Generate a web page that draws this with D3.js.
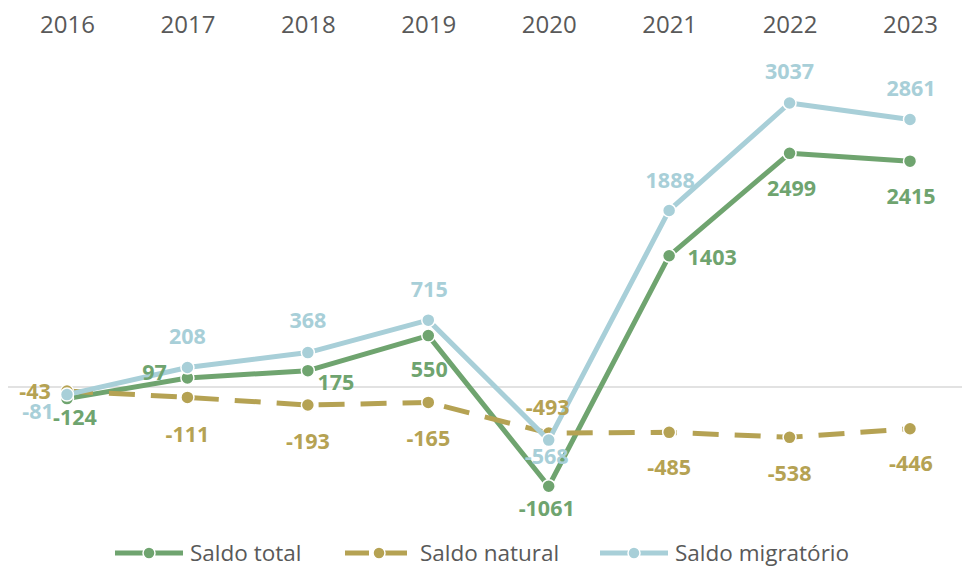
<!DOCTYPE html>
<html><head><meta charset="utf-8">
<script src="https://cdn.jsdelivr.net/npm/d3@7"></script>
<style>body{margin:0;background:#fff;}svg{display:block;}</style>
</head><body>
<script>
const years = ["2016","2017","2018","2019","2020","2021","2022","2023"];
const saldoTotal = [-124, 97, 175, 550, -1061, 1403, 2499, 2415];
const saldoNatural = [-43, -111, -193, -165, -493, -485, -538, -446];
const saldoMigratorio = [-81, 208, 368, 715, -568, 1888, 3037, 2861];
const seriesNames = ["Saldo total", "Saldo natural", "Saldo migratório"];

// label placement offsets (dx, dy) relative to each point
const offTotal = [[8,19],[-33,-6],[28,12],[1,34],[-2,22],[43,1],[2,35],[1,35]];
const offNatural = [[-32,0],[0,37],[0,36],[0,36],[-1,-26],[0,35],[0,36],[1,35]];
const offMigr = [[-29,17],[0,-31],[0,-32],[1,-31],[-2,16],[1,-30],[0,-32],[1,-31]];

const W = 963, H = 567;
const svg = d3.select("body").append("svg").attr("width", W).attr("height", H);
const x = d3.scalePoint().domain(years).range([67, 910]);
const y = d3.scaleLinear().domain([0, 3037]).range([387, 103]);

// zero line
svg.append("line").attr("x1", 8).attr("x2", 962).attr("y1", y(0)).attr("y2", y(0))
  .attr("stroke", "#d9d9d9").attr("stroke-width", 1.5);

// top axis
const axis = d3.axisTop(x).tickSize(0).tickPadding(0);
const ag = svg.append("g").attr("transform", "translate(0,33)").call(axis);
ag.select(".domain").remove();
ag.selectAll("text").attr("font-family", "Open Sans, sans-serif").attr("font-size", 24)
  .attr("fill", "#595959").attr("dy", 0);

const series = [
  {name: seriesNames[0], vals: saldoTotal, color: "#6fa46f", dash: null, off: offTotal},
  {name: seriesNames[1], vals: saldoNatural, color: "#b5a253", dash: "26,16", off: offNatural},
  {name: seriesNames[2], vals: saldoMigratorio, color: "#a8cfd8", dash: null, off: offMigr}
];

const line = d3.line().x((d, i) => x(years[i])).y(d => y(d));

series.forEach(s => {
  svg.append("path").datum(s.vals).attr("d", line).attr("fill", "none")
    .attr("stroke", s.color).attr("stroke-width", 5).attr("stroke-linejoin", "round")
    .attr("stroke-dasharray", s.dash);
  svg.selectAll(null).data(s.vals).enter().append("circle")
    .attr("cx", (d, i) => x(years[i])).attr("cy", d => y(d)).attr("r", 6.5)
    .attr("fill", s.color).attr("stroke", "#fff").attr("stroke-width", 1.5);
});

series.forEach(s => {
  svg.selectAll(null).data(s.vals).enter().append("text")
    .attr("x", (d, i) => x(years[i]) + s.off[i][0])
    .attr("y", (d, i) => y(d) + s.off[i][1])
    .attr("dy", "0.36em").attr("text-anchor", "middle")
    .attr("font-family", "Open Sans, sans-serif").attr("font-weight", "bold").attr("font-size", 21.5)
    .attr("fill", s.color).text(d => d);
});

// legend
const legendX = [115, 345, 600];
const lg = svg.append("g");
series.forEach((s, i) => {
  const g = lg.append("g").attr("transform", `translate(${legendX[i]},553)`);
  g.append("line").attr("x1", 0).attr("x2", 68).attr("y1", 0).attr("y2", 0)
    .attr("stroke", s.color).attr("stroke-width", 5).attr("stroke-dasharray", s.dash ? "24,14" : null);
  g.append("circle").attr("cx", 34).attr("cy", 0).attr("r", 6)
    .attr("fill", s.color).attr("stroke", "#fff").attr("stroke-width", 1.5);
  g.append("text").attr("x", 75).attr("y", 0).attr("dy", "0.35em")
    .attr("font-family", "Open Sans, sans-serif").attr("font-size", 22.5).attr("fill", "#595959")
    .text(s.name);
});
</script>
</body></html>
